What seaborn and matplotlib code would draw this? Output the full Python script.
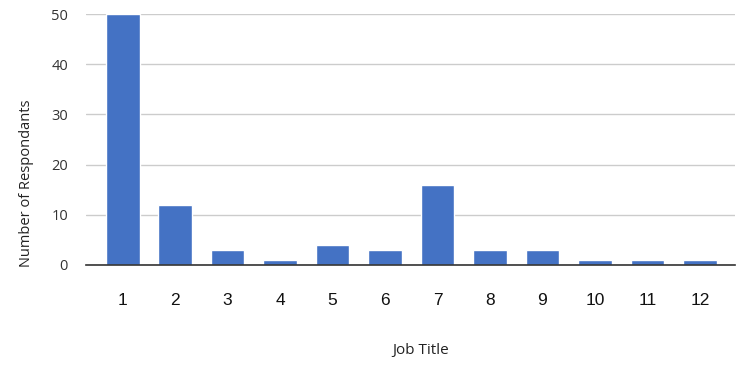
import matplotlib
matplotlib.use("Agg")
import matplotlib.pyplot as plt
import seaborn as sns
import pandas as pd

job_titles = ["1", "2", "3", "4", "5", "6", "7", "8", "9", "10", "11", "12"]
respondents = [50, 12, 3, 1, 4, 3, 16, 3, 3, 1, 1, 1]
y_ticks = [0, 10, 20, 30, 40, 50]

df = pd.DataFrame({"Job Title": job_titles, "Number of Respondants": respondents})

sns.set_theme(style="white")
plt.rcParams["font.family"] = ["Open Sans", "DejaVu Sans"]

fig = plt.figure(figsize=(7.5, 3.72), dpi=100)
ax = fig.add_axes([86 / 750, 1 - 265 / 372, (735 - 86) / 750, (265 - 14) / 372])

sns.barplot(data=df, x="Job Title", y="Number of Respondants", color="#4472C4",
            saturation=1, width=0.64, ax=ax, zorder=3)

ax.set_ylim(0, 50)
ax.set_xlim(-0.7, 11.67)
ax.set_yticks(y_ticks)
ax.yaxis.grid(True, color="#cccccc", linewidth=1, zorder=0)
ax.set_axisbelow(True)
for s in ["top", "right", "left"]:
    ax.spines[s].set_visible(False)
ax.spines["bottom"].set_color("#333333")
ax.spines["bottom"].set_linewidth(1.2)
ax.spines["bottom"].set_zorder(4)

ax.tick_params(axis="x", length=0, pad=20, labelsize=12.5, labelcolor="#111111")
ax.tick_params(axis="y", length=0, pad=13, labelsize=10.5, labelcolor="#333333")
for lbl in ax.get_xticklabels():
    lbl.set_fontfamily(["Liberation Sans", "DejaVu Sans"])

ax.set_xlabel("Job Title", fontsize=11, color="#222222")
ax.set_ylabel("Number of Respondants", fontsize=10.5, color="#222222")
ax.xaxis.set_label_coords((421 - 86) / 649, (265 - 343) / 251)
ax.yaxis.set_label_coords((34 - 86) / 649, (265 - 183) / 251)

fig.savefig("out.png", dpi=100)
